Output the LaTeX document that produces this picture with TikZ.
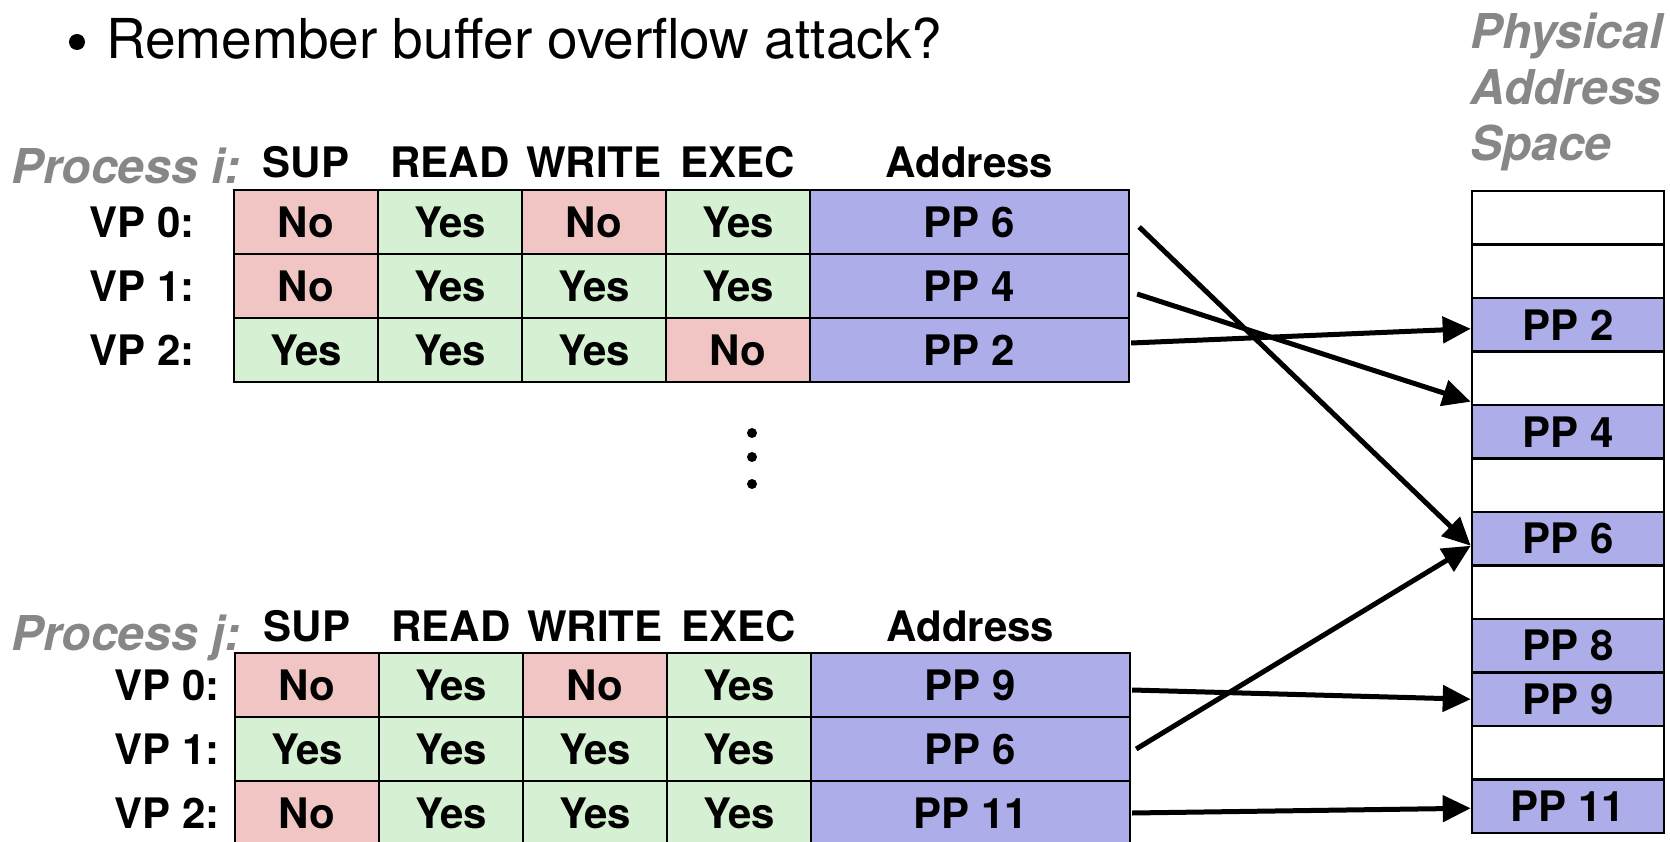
\documentclass[tikz,border=0pt]{standalone}
\usepackage{fontspec}
\setmainfont{TeX Gyre Heros}
\usetikzlibrary{arrows.meta}
\definecolor{nored}{RGB}{242,197,197}
\definecolor{yesgreen}{RGB}{213,240,210}
\definecolor{ppblue}{RGB}{173,173,234}
\definecolor{labgray}{RGB}{135,135,135}
\tikzset{
  cell/.style={draw=black, line width=2.3pt, minimum width=144pt, minimum height=64pt, inner sep=0pt,
    font=\fontsize{42}{50}\selectfont\bfseries},
  nocell/.style={cell, fill=nored},
  yescell/.style={cell, fill=yesgreen},
  addrcell/.style={cell, fill=ppblue, minimum width=319pt},
  pmcell/.style={draw=black, line width=2.6pt, minimum width=192pt, minimum height=53.5pt, inner sep=0pt,
    font=\fontsize{42}{50}\selectfont\bfseries},
  pmused/.style={pmcell, fill=ppblue},
  hdr/.style={anchor=base, inner sep=0pt, font=\fontsize{42}{50}\selectfont\bfseries},
  vplab/.style={anchor=east, inner sep=0pt, font=\fontsize{42}{50}\selectfont\bfseries},
  proclab/.style={anchor=base west, inner sep=0pt, text=labgray, font=\fontsize{48}{56}\selectfont\bfseries\itshape},
  maparrow/.style={line width=5pt, -{Triangle[length=28pt,width=26pt]}},
  vdot/.style={circle, fill=black, minimum size=10pt, inner sep=0pt},
}
\begin{document}
\begin{tikzpicture}[x=1pt,y=-1pt]
\useasboundingbox (0,0) rectangle (1670,842);

% title line
\node[circle, fill=black, minimum size=16pt, inner sep=0pt] (bullet) at (77,42) {};
\node[anchor=base west, inner sep=0pt, font=\fontsize{55}{64}\selectfont] (title) at (106,59) {Remember buffer overflow attack?};

% Process i
\node[proclab] (pi) at (11,184) {Process i:};
\node[hdr] (hi1) at (306,178) {SUP};
\node[hdr] (hi2) at (450,178) {READ};
\node[hdr] (hi3) at (594,178) {WRITE};
\node[hdr] (hi4) at (738,178) {EXEC};
\node[hdr] (hi5) at (969.5,178) {Address};

\node[vplab] (vi0) at (195,222) {VP 0:};
\node[vplab] (vi1) at (195,286) {VP 1:};
\node[vplab] (vi2) at (195,350) {VP 2:};

\node[nocell]  (ci01) at (306,222) {No};
\node[yescell] (ci02) at (450,222) {Yes};
\node[nocell]  (ci03) at (594,222) {No};
\node[yescell] (ci04) at (738,222) {Yes};
\node[addrcell] (ai0) at (969.5,222) {PP 6};

\node[nocell]  (ci11) at (306,286) {No};
\node[yescell] (ci12) at (450,286) {Yes};
\node[yescell] (ci13) at (594,286) {Yes};
\node[yescell] (ci14) at (738,286) {Yes};
\node[addrcell] (ai1) at (969.5,286) {PP 4};

\node[yescell] (ci21) at (306,350) {Yes};
\node[yescell] (ci22) at (450,350) {Yes};
\node[yescell] (ci23) at (594,350) {Yes};
\node[nocell]  (ci24) at (738,350) {No};
\node[addrcell] (ai2) at (969.5,350) {PP 2};

% dots
\node[vdot] (d1) at (752,433) {};
\node[vdot] (d2) at (752,457) {};
\node[vdot] (d3) at (752,484) {};

% Process j
\node[proclab] (pj) at (11,650) {Process j:};
\node[hdr] (hj1) at (307,641) {SUP};
\node[hdr] (hj2) at (451,641) {READ};
\node[hdr] (hj3) at (595,641) {WRITE};
\node[hdr] (hj4) at (739,641) {EXEC};
\node[hdr] (hj5) at (970.5,641) {Address};

\node[vplab] (vj0) at (220,685) {VP 0:};
\node[vplab] (vj1) at (220,749) {VP 1:};
\node[vplab] (vj2) at (220,813) {VP 2:};

\node[nocell]  (cj01) at (307,685) {No};
\node[yescell] (cj02) at (451,685) {Yes};
\node[nocell]  (cj03) at (595,685) {No};
\node[yescell] (cj04) at (739,685) {Yes};
\node[addrcell] (aj0) at (970.5,685) {PP 9};

\node[yescell] (cj11) at (307,749) {Yes};
\node[yescell] (cj12) at (451,749) {Yes};
\node[yescell] (cj13) at (595,749) {Yes};
\node[yescell] (cj14) at (739,749) {Yes};
\node[addrcell] (aj1) at (970.5,749) {PP 6};

\node[nocell]  (cj21) at (307,813) {No};
\node[yescell] (cj22) at (451,813) {Yes};
\node[yescell] (cj23) at (595,813) {Yes};
\node[yescell] (cj24) at (739,813) {Yes};
\node[addrcell] (aj2) at (970.5,813) {PP 11};

% Physical address space
\node[proclab] (ph1) at (1470,49) {Physical};
\node[proclab] (ph2) at (1470,105) {Address};
\node[proclab] (ph3) at (1470,161) {Space};

\node[pmcell] (pm0)  at (1568,217.75) {};
\node[pmcell] (pm1)  at (1568,271.25) {};
\node[pmused] (pm2)  at (1568,324.75) {PP 2};
\node[pmcell] (pm3)  at (1568,378.25) {};
\node[pmused] (pm4)  at (1568,431.75) {PP 4};
\node[pmcell] (pm5)  at (1568,485.25) {};
\node[pmused] (pm6)  at (1568,538.75) {PP 6};
\node[pmcell] (pm7)  at (1568,592.25) {};
\node[pmused] (pm8)  at (1568,645.75) {PP 8};
\node[pmused] (pm9)  at (1568,699.25) {PP 9};
\node[pmcell] (pm10) at (1568,752.75) {};
\node[pmused] (pm11) at (1568,806.25) {PP 11};

% mapping arrows
\draw[maparrow] ([xshift=9pt,yshift=-5pt]ai0.east) -- ([yshift=-7pt]pm6.west);
\draw[maparrow] ([xshift=7pt,yshift=-8pt]ai1.east) -- ([yshift=2pt]pm4.north west);
\draw[maparrow] ([xshift=1pt,yshift=7pt]ai2.east) -- ([yshift=-4pt]pm2.west);
\draw[maparrow] ([xshift=1pt,yshift=-5pt]aj0.east) -- (pm9.west);
\draw[maparrow] ([xshift=5pt]aj1.east) -- ([yshift=-7pt]pm6.west);
\draw[maparrow] ([xshift=1pt]aj2.east) -- ([yshift=-2pt]pm11.west);
\end{tikzpicture}
\end{document}
